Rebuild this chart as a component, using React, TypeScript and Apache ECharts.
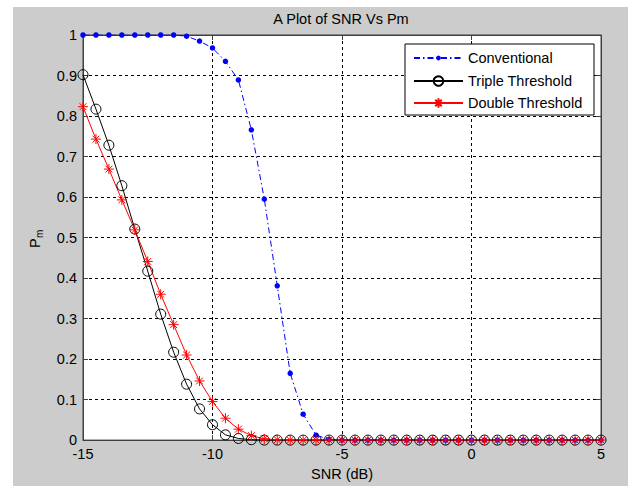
import React, { useEffect, useRef } from 'react';
import * as echarts from 'echarts';

const snr = [
  -15, -14.5, -14, -13.5, -13, -12.5, -12, -11.5, -11, -10.5,
  -10, -9.5, -9, -8.5, -8, -7.5, -7, -6.5, -6, -5.5,
  -5, -4.5, -4, -3.5, -3, -2.5, -2, -1.5, -1, -0.5,
  0, 0.5, 1, 1.5, 2, 2.5, 3, 3.5, 4, 4.5, 5,
];

const conventional = [
  1, 1, 1, 1, 1, 1, 1, 1, 0.997, 0.985,
  0.968, 0.935, 0.889, 0.766, 0.595, 0.381, 0.165, 0.064, 0.012, 0.002,
  0, 0, 0, 0, 0, 0, 0, 0, 0, 0,
  0, 0, 0, 0, 0, 0, 0, 0, 0, 0, 0,
];

const tripleThreshold = [
  0.902, 0.817, 0.728, 0.628, 0.521, 0.417, 0.311, 0.217, 0.138, 0.077,
  0.038, 0.013, 0.004, 0.001, 0, 0, 0, 0, 0, 0,
  0, 0, 0, 0, 0, 0, 0, 0, 0, 0,
  0, 0, 0, 0, 0, 0, 0, 0, 0, 0, 0,
];

const doubleThreshold = [
  0.823, 0.743, 0.669, 0.593, 0.519, 0.441, 0.36, 0.285, 0.21, 0.146,
  0.095, 0.054, 0.027, 0.011, 0.003, 0.001, 0, 0, 0, 0,
  0, 0, 0, 0, 0, 0, 0, 0, 0, 0,
  0, 0, 0, 0, 0, 0, 0, 0, 0, 0, 0,
];

const seriesNames = ['Conventional', 'Triple Threshold', 'Double Threshold'];
const titleText = 'A Plot of SNR Vs Pm';
const xName = 'SNR (dB)';

const FONT = '"Liberation Sans", Arial, sans-serif';
const FS = 14.5;
const AXIS_COLOR = '#404040';
const STAR = 'path://M5,0L5,10M0,5L10,5M1.6,1.6L8.4,8.4M1.6,8.4L8.4,1.6';

export default function App() {
  const ref = useRef<HTMLDivElement>(null);

  useEffect(() => {
    const chart = echarts.init(ref.current!, null, { renderer: 'svg' });
    const pair = (arr: number[]) => snr.map((x, i) => [x, arr[i]]);

    const axisCommon = {
      axisLine: { show: true, onZero: false, lineStyle: { color: AXIS_COLOR, width: 1 } },
      axisTick: { show: true, inside: true, length: 5, lineStyle: { color: AXIS_COLOR, width: 1 } },
    };
    const legendCommon = {
      orient: 'horizontal',
      left: 400,
      padding: 0,
      itemWidth: 49,
      itemGap: 5,
      selectedMode: false,
      textStyle: { color: '#000', fontSize: FS, fontFamily: FONT, lineHeight: 16 },
    };

    chart.setOption({
      animation: false,
      backgroundColor: '#cccccc',
      grid: {
        left: 70,
        top: 28,
        width: 518,
        height: 406,
        show: true,
        backgroundColor: '#ffffff',
        borderColor: AXIS_COLOR,
        borderWidth: 1,
      },
      xAxis: [
        {
          type: 'value',
          min: -15,
          max: 5,
          interval: 5,
          position: 'bottom',
          ...axisCommon,
          axisLabel: { color: '#000', fontSize: FS, fontFamily: FONT, margin: 6 },
          splitLine: { show: true, lineStyle: { color: '#000', width: 1, type: [3, 3] } },
          name: xName,
          nameLocation: 'middle',
          nameGap: 23,
          nameTextStyle: { color: '#000', fontSize: FS, fontFamily: FONT },
        },
        {
          type: 'value',
          min: -15,
          max: 5,
          interval: 5,
          position: 'top',
          ...axisCommon,
          axisLabel: { show: false },
          splitLine: { show: false },
        },
      ],
      yAxis: [
        {
          type: 'value',
          min: 0,
          max: 1,
          interval: 0.1,
          position: 'left',
          ...axisCommon,
          axisLabel: { color: '#000', fontSize: FS, fontFamily: FONT, margin: 6 },
          splitLine: { show: true, lineStyle: { color: '#000', width: 1, type: [3, 3] } },
        },
        {
          type: 'value',
          min: 0,
          max: 1,
          interval: 0.1,
          position: 'right',
          ...axisCommon,
          axisLabel: { show: false },
          splitLine: { show: false },
        },
      ],
      legend: [
        { ...legendCommon, top: 43, itemHeight: 6, data: [seriesNames[0]] },
        { ...legendCommon, top: 66, itemHeight: 12, data: [seriesNames[1]] },
        { ...legendCommon, top: 88, itemHeight: 12, data: [seriesNames[2]] },
      ],
      graphic: [
        {
          type: 'rect',
          z: 3,
          shape: { x: 392, y: 37, width: 189, height: 71 },
          style: { fill: '#ffffff', stroke: '#000', lineWidth: 1 },
        },
        {
          type: 'text',
          x: 328,
          y: 12,
          style: {
            text: titleText,
            fill: '#000',
            fontSize: FS,
            fontFamily: FONT,
            textAlign: 'center',
            textVerticalAlign: 'middle',
          },
        },
        {
          type: 'group',
          x: 22,
          y: 241,
          rotation: Math.PI / 2,
          children: [
            {
              type: 'text',
              x: 0,
              y: 0,
              style: { text: 'P', fill: '#000', fontSize: FS, fontFamily: FONT, textAlign: 'left', textVerticalAlign: 'middle' },
            },
            {
              type: 'text',
              x: 10,
              y: 4,
              style: { text: 'm', fill: '#000', fontSize: 10, fontFamily: FONT, textAlign: 'left', textVerticalAlign: 'middle' },
            },
          ],
        },
      ],
      series: [
        {
          name: seriesNames[0],
          type: 'line',
          data: pair(conventional),
          symbol: 'circle',
          symbolSize: 5.5,
          itemStyle: { color: '#0000ff' },
          lineStyle: { color: '#0000ff', width: 1, type: [6, 3, 1.5, 3] },
          emphasis: { disabled: true },
        },
        {
          name: seriesNames[1],
          type: 'line',
          data: pair(tripleThreshold),
          symbol: 'circle',
          symbolSize: 10,
          itemStyle: { color: 'transparent', borderColor: '#000', borderWidth: 1 },
          lineStyle: { color: '#000', width: 1 },
          emphasis: { disabled: true },
        },
        {
          name: seriesNames[2],
          type: 'line',
          data: pair(doubleThreshold),
          symbol: STAR,
          symbolSize: 10,
          itemStyle: { color: '#ff0000', borderColor: '#ff0000', borderWidth: 1 },
          lineStyle: { color: '#ff0000', width: 1 },
          emphasis: { disabled: true },
        },
      ],
    });

    return () => chart.dispose();
  }, []);

  return (
    <div style={{ position: 'fixed', left: 0, top: 0, width: 628, height: 486, background: '#ffffff' }}>
      <div ref={ref} style={{ position: 'absolute', left: 13, top: 7, width: 615, height: 479 }} />
    </div>
  );
}
